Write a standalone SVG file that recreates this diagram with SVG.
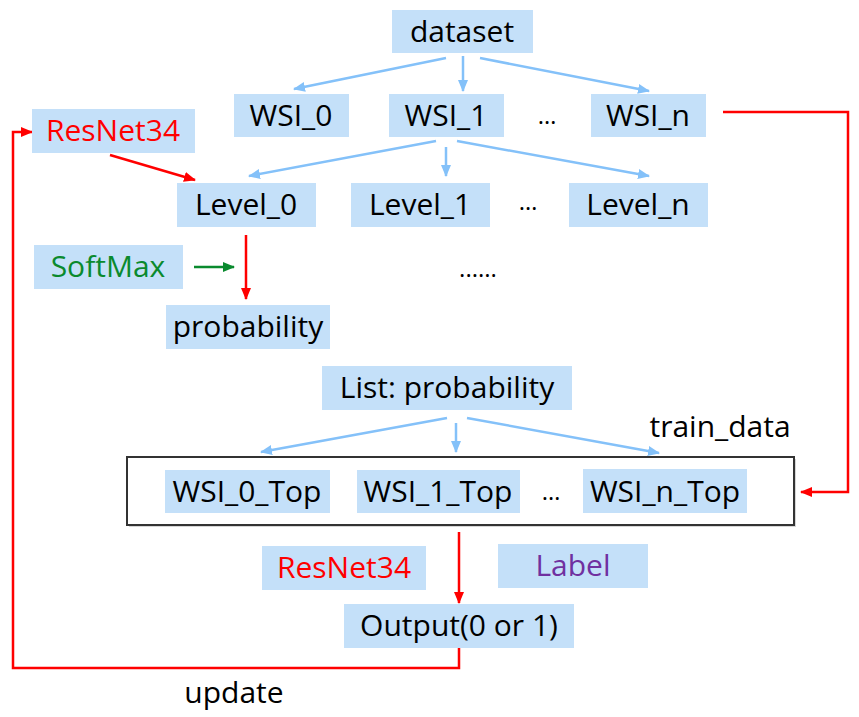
<svg xmlns="http://www.w3.org/2000/svg" width="859" height="717" viewBox="0 0 859 717">
<style>
  .box { fill: #C4E0F9; }
  .t { font-family: "Open Sans", "Noto Sans", sans-serif; font-size: 30px; text-anchor: middle; fill: #000; }
  .dots { font-family: "Open Sans", "Noto Sans", sans-serif; font-size: 24px; text-anchor: middle; fill: #000; }
  .blue { stroke: #84C1F9; stroke-width: 2.5; fill: none; marker-end: url(#ab); }
  .red { stroke: #FF0000; stroke-width: 2.5; fill: none; marker-end: url(#ar); }
  .green { stroke: #0A8A2E; stroke-width: 2.5; fill: none; marker-end: url(#ag); }
</style>
<defs>
  <marker id="ab" markerUnits="userSpaceOnUse" markerWidth="12" markerHeight="12" viewBox="0 0 12 12" refX="11" refY="6" orient="auto">
    <path d="M0,1 L12,6 L0,11 Z" fill="#84C1F9"/>
  </marker>
  <marker id="ar" markerUnits="userSpaceOnUse" markerWidth="12" markerHeight="12" viewBox="0 0 12 12" refX="11" refY="6" orient="auto">
    <path d="M0,1 L12,6 L0,11 Z" fill="#FF0000"/>
  </marker>
  <marker id="ag" markerUnits="userSpaceOnUse" markerWidth="12" markerHeight="12" viewBox="0 0 12 12" refX="11" refY="6" orient="auto">
    <path d="M0,1 L12,6 L0,11 Z" fill="#0A8A2E"/>
  </marker>
</defs>

<g id="train_data_frame">
  <rect x="129" y="459" width="667" height="68" fill="#BBBBBB" opacity="0.6"/>
  <rect x="127" y="457" width="667" height="68" fill="#FFFFFF" stroke="#333333" stroke-width="2"/>
</g>

<g id="connectors">
  <line class="blue" x1="446" y1="58" x2="294" y2="89"/>
  <line class="blue" x1="463" y1="56" x2="463" y2="91"/>
  <line class="blue" x1="480" y1="58" x2="649" y2="91"/>
  <line class="blue" x1="436" y1="141" x2="249" y2="176"/>
  <line class="blue" x1="446" y1="147" x2="446" y2="176"/>
  <line class="blue" x1="457" y1="141" x2="649" y2="176"/>
  <line class="blue" x1="447" y1="418" x2="261" y2="452"/>
  <line class="blue" x1="456" y1="423" x2="456" y2="452"/>
  <line class="blue" x1="467" y1="418" x2="659" y2="453"/>
  <line class="red" x1="110" y1="155" x2="195" y2="180"/>
  <line class="red" x1="246" y1="235" x2="246" y2="299"/>
  <line class="green" x1="194" y1="267" x2="234" y2="267"/>
  <polyline class="red" points="723,112 848,112 848,492 801,492"/>
  <line class="red" x1="459" y1="532" x2="459" y2="603"/>
  <polyline class="red" points="459,648 459,668 13,668 13,132 32,132"/>
</g>

<g id="dataset"><rect class="box" x="392" y="10" width="141" height="43"/><text class="t" x="462" y="42">dataset</text></g>
<g id="wsi_0"><rect class="box" x="234" y="94" width="115" height="43"/><text class="t" x="291" y="126">WSI_0</text></g>
<g id="wsi_1"><rect class="box" x="389" y="94" width="115" height="43"/><text class="t" x="446" y="126">WSI_1</text></g>
<g id="wsi_dots"><text class="dots" x="547" y="124">…</text></g>
<g id="wsi_n"><rect class="box" x="591" y="94" width="115" height="43"/><text class="t" x="648" y="126">WSI_n</text></g>

<g id="resnet34_top"><rect class="box" x="32" y="109" width="163" height="44"/><text class="t" x="113" y="141" style="fill:#FF0000">ResNet34</text></g>

<g id="level_0"><rect class="box" x="177" y="183" width="139" height="44"/><text class="t" x="246" y="215">Level_0</text></g>
<g id="level_1"><rect class="box" x="351" y="183" width="139" height="44"/><text class="t" x="420" y="215">Level_1</text></g>
<g id="level_dots"><text class="dots" x="528" y="210">…</text></g>
<g id="level_n"><rect class="box" x="569" y="183" width="139" height="44"/><text class="t" x="638" y="215">Level_n</text></g>

<g id="softmax"><rect class="box" x="34" y="245" width="149" height="44"/><text class="t" x="108" y="277" style="fill:#0A8A2E">SoftMax</text></g>
<g id="more_dots"><text class="dots" x="478" y="277">......</text></g>
<g id="probability"><rect class="box" x="166" y="305" width="164" height="44"/><text class="t" x="248" y="337">probability</text></g>

<g id="list_probability"><rect class="box" x="322" y="366" width="250" height="44"/><text class="t" x="447" y="398">List: probability</text></g>
<g id="train_data_label"><text class="t" x="720" y="437">train_data</text></g>

<g id="wsi_0_top"><rect class="box" x="165" y="470" width="165" height="43"/><text class="t" x="247" y="502">WSI_0_Top</text></g>
<g id="wsi_1_top"><rect class="box" x="357" y="470" width="163" height="43"/><text class="t" x="438" y="502">WSI_1_Top</text></g>
<g id="top_dots"><text class="dots" x="551" y="500">…</text></g>
<g id="wsi_n_top"><rect class="box" x="583" y="469" width="164" height="44"/><text class="t" x="665" y="502">WSI_n_Top</text></g>

<g id="resnet34_bottom"><rect class="box" x="262" y="546" width="164" height="44"/><text class="t" x="344" y="578" style="fill:#FF0000">ResNet34</text></g>
<g id="label"><rect class="box" x="498" y="544" width="150" height="44"/><text class="t" x="573" y="576" style="fill:#7030A0">Label</text></g>
<g id="output"><rect class="box" x="344" y="604" width="230" height="44"/><text class="t" x="459" y="636">Output(0 or 1)</text></g>
<g id="update_label"><text class="t" x="234" y="703">update</text></g>
</svg>
